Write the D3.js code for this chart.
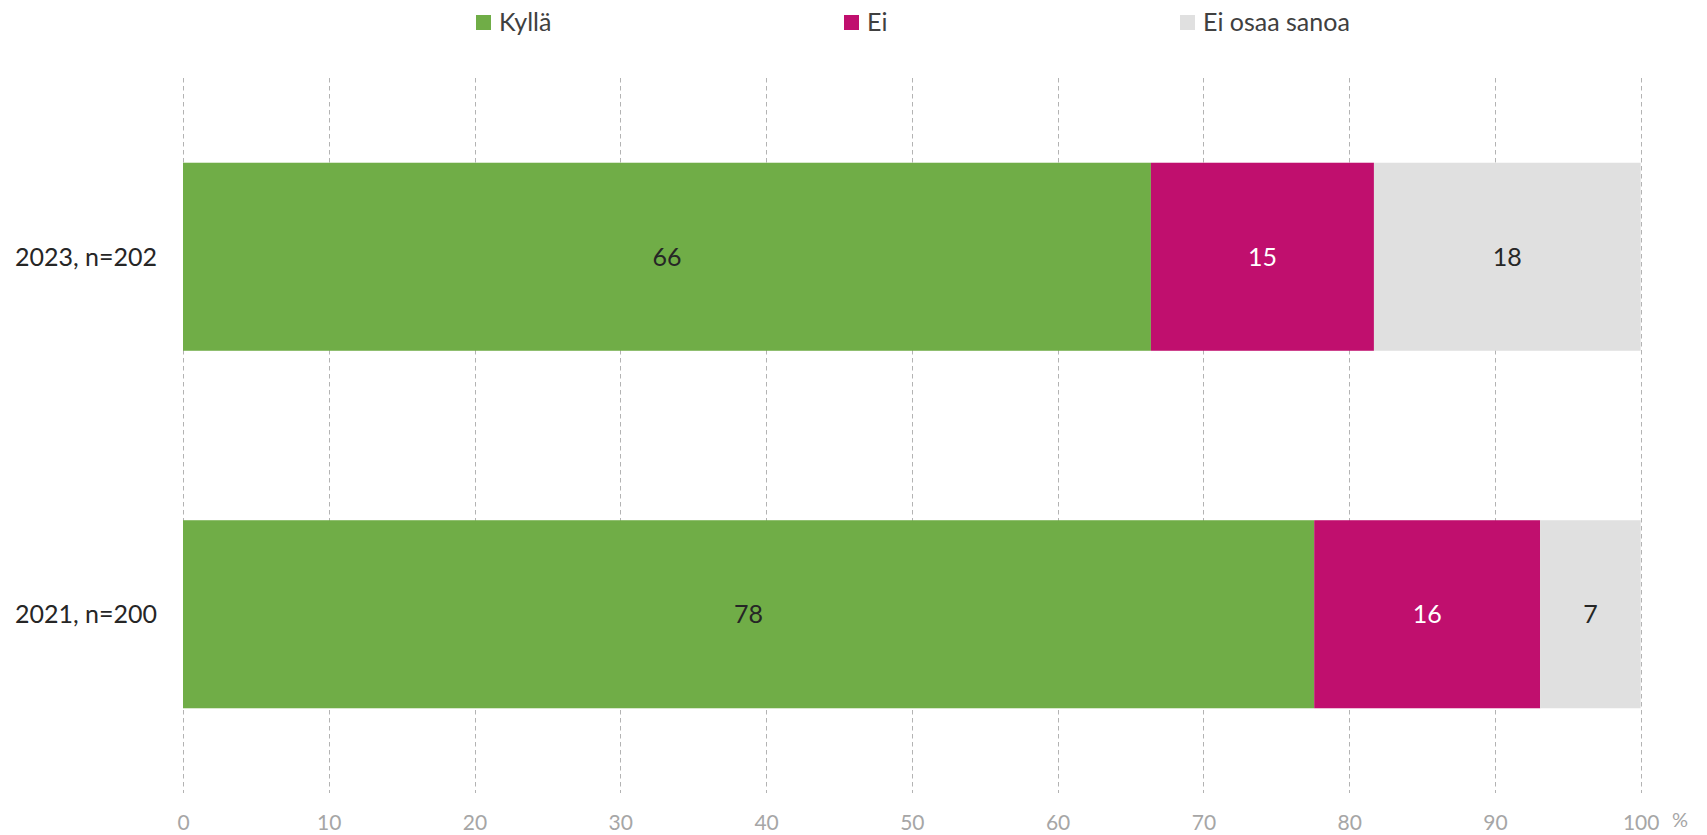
<!DOCTYPE html>
<html>
<head>
<meta charset="utf-8">
<script src="https://cdn.jsdelivr.net/npm/d3@7"></script>
<style>
  body { margin: 0; background: #fff; }
  svg { display: block; font-family: Lato, "Open Sans", sans-serif; }
</style>
</head>
<body>
<div id="container"></div>
<script>
const width = 1707, height = 835;

// data
const categories = ["2023, n=202", "2021, n=200"];
const seriesNames = ["Kyllä", "Ei", "Ei osaa sanoa"];
const kylla = [66.4, 77.6];
const ei = [15.3, 15.5];
const eiOsaa = [18.3, 6.9];
const xTicks = [0, 10, 20, 30, 40, 50, 60, 70, 80, 90, 100];

const colors = ["#70ad47", "#c00f6e", "#e0e0e0"];
const labelColors = ["#262626", "#ffffff", "#262626"];

// rows for the stack
const rows = categories.map((c, i) => ({
    cat: c,
    "Kyllä": kylla[i],
    "Ei": ei[i],
    "Ei osaa sanoa": eiOsaa[i]
}));
const stacked = d3.stack().keys(seriesNames)(rows);

const x = d3.scaleLinear().domain([0, 100]).range([183, 1640.7]);
const y = d3.scaleBand().domain(categories).range([78, 793])
    .paddingInner(0.474).paddingOuter(0.237);

const svg = d3.select("#container").append("svg")
    .attr("width", width)
    .attr("height", height);

// dashed gridlines
svg.append("g")
    .selectAll("line")
    .data(xTicks)
    .join("line")
    .attr("x1", d => Math.round(x(d)) + 0.5)
    .attr("x2", d => Math.round(x(d)) + 0.5)
    .attr("y1", 78)
    .attr("y2", 793)
    .attr("stroke", "#b3b3b3")
    .attr("stroke-width", 1)
    .attr("stroke-dasharray", "4.5,3.5");

// bars
const layer = svg.append("g")
    .selectAll("g")
    .data(stacked)
    .join("g")
    .attr("fill", (d, i) => colors[i]);

layer.selectAll("rect")
    .data(d => d)
    .join("rect")
    .attr("x", d => x(d[0]))
    .attr("width", d => x(d[1]) - x(d[0]))
    .attr("y", d => y(d.data.cat))
    .attr("height", y.bandwidth());

// value labels
svg.append("g")
    .selectAll("g")
    .data(stacked)
    .join("g")
    .attr("fill", (d, i) => labelColors[i])
    .selectAll("text")
    .data(d => d)
    .join("text")
    .attr("x", d => (x(d[0]) + x(d[1])) / 2)
    .attr("y", d => y(d.data.cat) + y.bandwidth() / 2)
    .attr("text-anchor", "middle")
    .attr("dy", "0.35em")
    .attr("font-size", 25)
    .text(d => Math.round(d[1] - d[0]));

// category labels
svg.append("g")
    .selectAll("text")
    .data(categories)
    .join("text")
    .attr("x", 157)
    .attr("y", d => y(d) + y.bandwidth() / 2)
    .attr("text-anchor", "end")
    .attr("dy", "0.35em")
    .attr("font-size", 25)
    .attr("fill", "#262626")
    .text(d => d);

// x axis labels
const axis = svg.append("g")
    .attr("transform", "translate(0,830)")
    .call(d3.axisBottom(x).tickValues(xTicks).tickSize(0).tickPadding(0));
axis.select(".domain").remove();
axis.selectAll("text")
    .attr("dy", 0)
    .attr("y", 0)
    .attr("font-family", "Lato, sans-serif")
    .attr("font-size", 21)
    .attr("fill", "#a6a6a6");
svg.append("text")
    .attr("x", 1672)
    .attr("y", 827)
    .attr("font-size", 20)
    .attr("fill", "#a6a6a6")
    .text("%");

// legend
const legendX = [476, 844, 1180];
const legend = svg.append("g")
    .selectAll("g")
    .data(seriesNames)
    .join("g")
    .attr("transform", (d, i) => `translate(${legendX[i]},0)`);
legend.append("rect")
    .attr("y", 15)
    .attr("width", 15)
    .attr("height", 15)
    .attr("fill", (d, i) => colors[i]);
legend.append("text")
    .attr("x", 23)
    .attr("y", 31)
    .attr("font-size", 25)
    .attr("fill", "#404040")
    .text(d => d);
</script>
</body>
</html>
